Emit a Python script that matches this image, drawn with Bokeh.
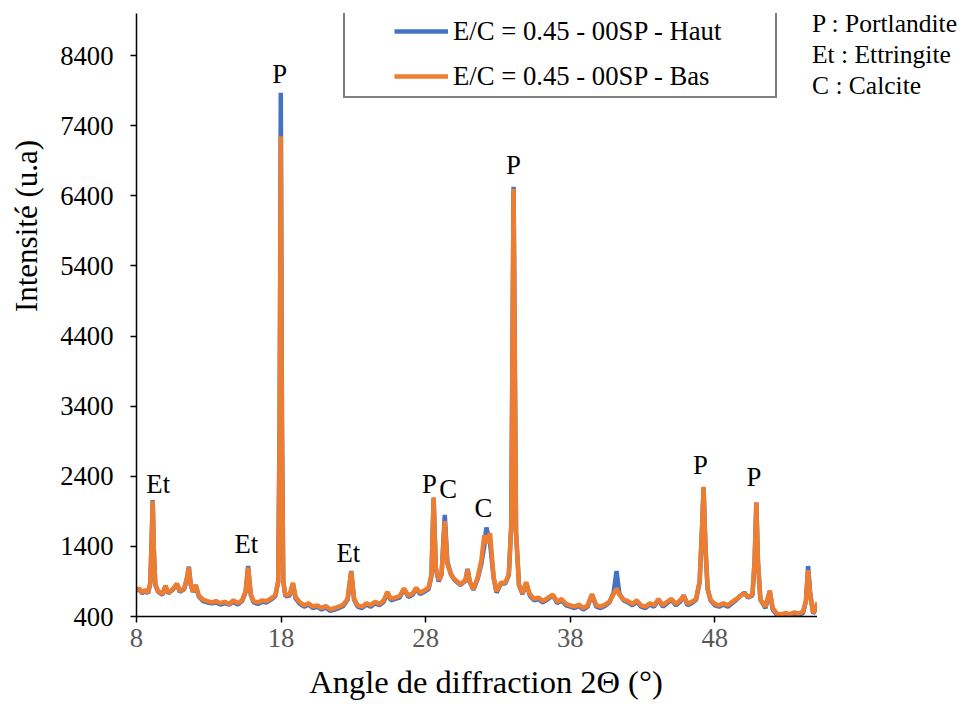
from bokeh.plotting import figure
from bokeh.models import (ColumnDataSource, FixedTicker, Legend, LegendItem, Label,
                          Range1d, Div)
from bokeh.layouts import row, column
from bokeh.embed import file_html
from bokeh.resources import INLINE

# ---- data (2-theta in degrees, intensity in u.a) ----
angle = [8.0, 8.2, 8.4, 8.6, 8.8, 8.95, 9.05, 9.12, 9.2, 9.3,
         9.5, 9.8, 10.0, 10.2, 10.5, 10.8, 11.0, 11.3, 11.5, 11.62,
         11.75, 11.9, 12.1, 12.3, 12.6, 12.9, 13.2, 13.5, 13.8, 14.1,
         14.4, 14.7, 15.0, 15.3, 15.55, 15.72, 15.9, 16.1, 16.4, 16.7,
         17.0, 17.3, 17.6, 17.8, 17.9, 17.98, 18.06, 18.15, 18.3, 18.6,
         18.82, 19.0, 19.3, 19.6, 19.9, 20.2, 20.5, 20.8, 21.1, 21.4,
         21.7, 22.0, 22.3, 22.6, 22.85, 23.05, 23.3, 23.6, 23.9, 24.2,
         24.5, 24.8, 25.1, 25.35, 25.6, 25.9, 26.2, 26.5, 26.8, 27.1,
         27.35, 27.6, 27.9, 28.2, 28.4, 28.55, 28.7, 28.9, 29.1, 29.32,
         29.5, 29.75, 30.0, 30.4, 30.75, 30.9, 31.05, 31.3, 31.6, 31.85,
         32.05, 32.2, 32.45, 32.7, 32.9, 33.2, 33.5, 33.75, 33.92, 34.08,
         34.25, 34.45, 34.7, 34.95, 35.2, 35.5, 35.8, 36.1, 36.4, 36.8,
         37.1, 37.4, 37.7, 38.0, 38.3, 38.6, 38.9, 39.2, 39.5, 39.8,
         40.1, 40.4, 40.7, 41.0, 41.2, 41.4, 41.7, 42.0, 42.3, 42.6,
         42.9, 43.2, 43.5, 43.8, 44.1, 44.4, 44.7, 45.0, 45.3, 45.6,
         45.85, 46.1, 46.4, 46.7, 46.95, 47.12, 47.22, 47.35, 47.5, 47.7,
         48.0, 48.3, 48.6, 48.9, 49.2, 49.5, 49.8, 50.05, 50.3, 50.6,
         50.75, 50.87, 50.98, 51.15, 51.5, 51.8, 52.0, 52.3, 52.6, 52.9,
         53.2, 53.5, 53.8, 54.1, 54.3, 54.45, 54.6, 54.8, 55.0, 55.1]

haut = [770, 790, 730, 770, 730, 870, 1480, 2060, 1330, 850,
        750, 710, 830, 730, 780, 860, 750, 790, 950, 1110,
        850, 750, 840, 690, 620, 600, 590, 600, 570, 590,
        570, 610, 570, 620, 750, 1120, 710, 600, 580, 610,
        600, 640, 690, 900, 3200, 7870, 3200, 900, 690, 700,
        870, 660, 580, 540, 570, 520, 540, 500, 530, 480,
        500, 520, 550, 640, 1050, 640, 540, 520, 570, 540,
        590, 560, 610, 740, 630, 650, 670, 790, 680, 710,
        800, 720, 750, 790, 980, 2080, 1080, 900, 1000, 1850,
        1180, 1000, 920, 850, 910, 1080, 890, 780, 940, 1150,
        1400, 1670, 1450, 950, 740, 870, 870, 990, 1700, 6530,
        1600, 850, 720, 880, 700, 630, 650, 600, 640, 700,
        590, 630, 560, 540, 520, 550, 500, 540, 710, 540,
        520, 550, 600, 740, 1050, 720, 630, 600, 560, 610,
        540, 520, 570, 540, 640, 540, 590, 640, 560, 610,
        700, 560, 590, 640, 890, 1680, 2240, 1380, 790, 630,
        560, 540, 570, 540, 590, 640, 700, 740, 670, 700,
        1180, 2020, 1180, 640, 520, 760, 500, 420, 410, 430,
        410, 440, 420, 450, 620, 1120, 720, 440, 520, 580]

bas = [780, 800, 740, 780, 740, 880, 1500, 2050, 1350, 860,
       760, 720, 840, 740, 790, 870, 760, 800, 960, 1100,
       860, 760, 850, 700, 640, 620, 600, 620, 590, 610,
       580, 630, 590, 630, 760, 1100, 720, 620, 600, 630,
       620, 660, 700, 900, 3000, 7250, 3000, 900, 700, 720,
       880, 680, 600, 560, 590, 540, 560, 520, 550, 500,
       520, 540, 570, 650, 1040, 650, 560, 540, 590, 560,
       610, 580, 630, 750, 650, 670, 690, 800, 700, 730,
       810, 740, 770, 810, 1000, 2100, 1100, 920, 1000, 1760,
       1150, 1000, 930, 860, 920, 1070, 900, 790, 960, 1200,
       1560, 1450, 1590, 960, 760, 880, 880, 1000, 1700, 6500,
       1600, 860, 730, 890, 720, 650, 670, 620, 660, 710,
       610, 650, 580, 560, 540, 570, 520, 560, 720, 560,
       540, 570, 610, 720, 800, 710, 640, 620, 580, 630,
       560, 540, 590, 560, 650, 560, 610, 650, 580, 630,
       700, 580, 610, 650, 900, 1700, 2250, 1400, 800, 640,
       580, 560, 590, 560, 610, 650, 700, 730, 680, 710,
       1200, 2030, 1200, 650, 540, 770, 520, 440, 430, 450,
       430, 460, 440, 470, 620, 1060, 700, 450, 540, 600]

series_names = ["E/C = 0.45 - 00SP - Haut", "E/C = 0.45 - 00SP - Bas"]
x_ticks = [8, 18, 28, 38, 48]
y_ticks = [400, 1400, 2400, 3400, 4400, 5400, 6400, 7400, 8400]
x_title = "Angle de diffraction 2\u0398 (\u00b0)"
y_title = "Intensit\u00e9 (u.a)"

# peak annotations: text, 2-theta, intensity (baseline of text)
peak_text = ["Et", "Et", "P", "Et", "P", "C", "C", "P", "P", "P"]
peak_x = [9.5, 15.6, 17.9, 22.65, 28.26, 29.56, 32.0, 34.07, 47.0, 50.7]
peak_y = [2290, 1440, 8140, 1300, 2290, 2220, 1950, 6840, 2560, 2390]

key_text = ["P : Portlandite", "Et : Ettringite", "C : Calcite"]

FONT = "Liberation Serif"
LEFT_DIV = 55

p = figure(width=817 - LEFT_DIV, height=665, output_backend="svg", toolbar_location=None,
           x_range=Range1d(8, 55.1), y_range=Range1d(400, 9000),
           min_border_left=136 - LEFT_DIV, min_border_right=0, min_border_top=13,
           min_border_bottom=49)
p.outline_line_color = None
p.grid.visible = False
p.background_fill_color = "white"
p.border_fill_color = "white"

src = ColumnDataSource(dict(x=angle, haut=haut, bas=bas))
r1 = p.line("x", "haut", source=src, line_color="#4472C4", line_width=4.5)
r2 = p.line("x", "bas", source=src, line_color="#ED7D31", line_width=4.5)

# axes
xa = p.xaxis[0]
xa.ticker = FixedTicker(ticks=x_ticks)
xa.minor_tick_line_color = None
xa.major_tick_in = 0
xa.major_tick_out = 6
xa.axis_line_color = "black"
xa.axis_line_width = 1.5
xa.major_tick_line_color = "black"
xa.major_tick_line_width = 1.5
xa.major_label_text_font = FONT
xa.major_label_text_font_size = "26.7px"
xa.major_label_text_color = "#595959"
xa.major_label_standoff = 6

ya = p.yaxis[0]
ya.ticker = FixedTicker(ticks=y_ticks)
ya.minor_tick_line_color = None
ya.major_tick_in = 0
ya.major_tick_out = 6
ya.axis_line_color = "black"
ya.axis_line_width = 1.5
ya.major_tick_line_color = "black"
ya.major_tick_line_width = 1.5
ya.major_label_text_font = FONT
ya.major_label_text_font_size = "26.7px"
ya.major_label_text_color = "black"
ya.major_label_standoff = 17

# peak annotations
for t, xv, yv in zip(peak_text, peak_x, peak_y):
    p.add_layout(Label(x=xv, y=yv, text=t, text_font=FONT, text_font_size="26.7px",
                       text_color="black", text_align="center",
                       text_baseline="alphabetic"))

# legend frame
box = Legend(items=[LegendItem(label=" ", renderers=[r2])], location=(207, 518),
             padding=0, margin=0, glyph_width=0, glyph_height=84, label_width=430,
             label_height=84, label_standoff=0, spacing=0,
             border_line_color="black", border_line_width=2,
             background_fill_color="white", background_fill_alpha=1.0,
             label_text_font_size="10px")
p.add_layout(box, "center")

# legend entries
leg = Legend(items=[LegendItem(label=series_names[0], renderers=[r1]),
                    LegendItem(label=series_names[1], renderers=[r2])],
             location=(258, 524), padding=0, margin=0, glyph_width=54, glyph_height=32,
             label_height=32, label_standoff=5, spacing=13,
             border_line_color=None, background_fill_alpha=0,
             label_text_font=FONT, label_text_font_size="26.7px",
             label_text_color="black")
p.add_layout(leg, "center")

# y-axis title (rotated, towards the top as in the reference)
yt_html = ("<div style=\"font-family:'Liberation Serif',serif;font-size:31px;"
           "line-height:34px;height:34px;width:200px;color:black;white-space:nowrap;"
           "text-align:center;transform:translate(-73px,209px) rotate(-90deg);\">"
           + y_title + "</div>")
yt = Div(text=yt_html, width=LEFT_DIV, height=665, margin=(0, 0, 0, 0))

# phase key to the right of the plot
key_html = ("<div style=\"font-family:'Liberation Serif',serif;font-size:25.5px;"
            "line-height:31px;color:black;white-space:nowrap;margin-left:-5px;"
            "padding-top:8px;\">" + "<br>".join(key_text) + "</div>")
key = Div(text=key_html, width=138, height=120, margin=(0, 0, 0, 0))

# x-axis title under the axis
xt_html = ("<div style=\"font-family:'Liberation Serif',serif;font-size:32.5px;"
           "line-height:34px;color:black;white-space:nowrap;text-align:center;"
           "width:700px;\">" + x_title + "</div>")
xt = Div(text=xt_html, width=700, height=32, margin=(0, 0, 0, 136))

layout = column(row(yt, p, key), xt)
open("out.html", "w").write(file_html(layout, INLINE))
